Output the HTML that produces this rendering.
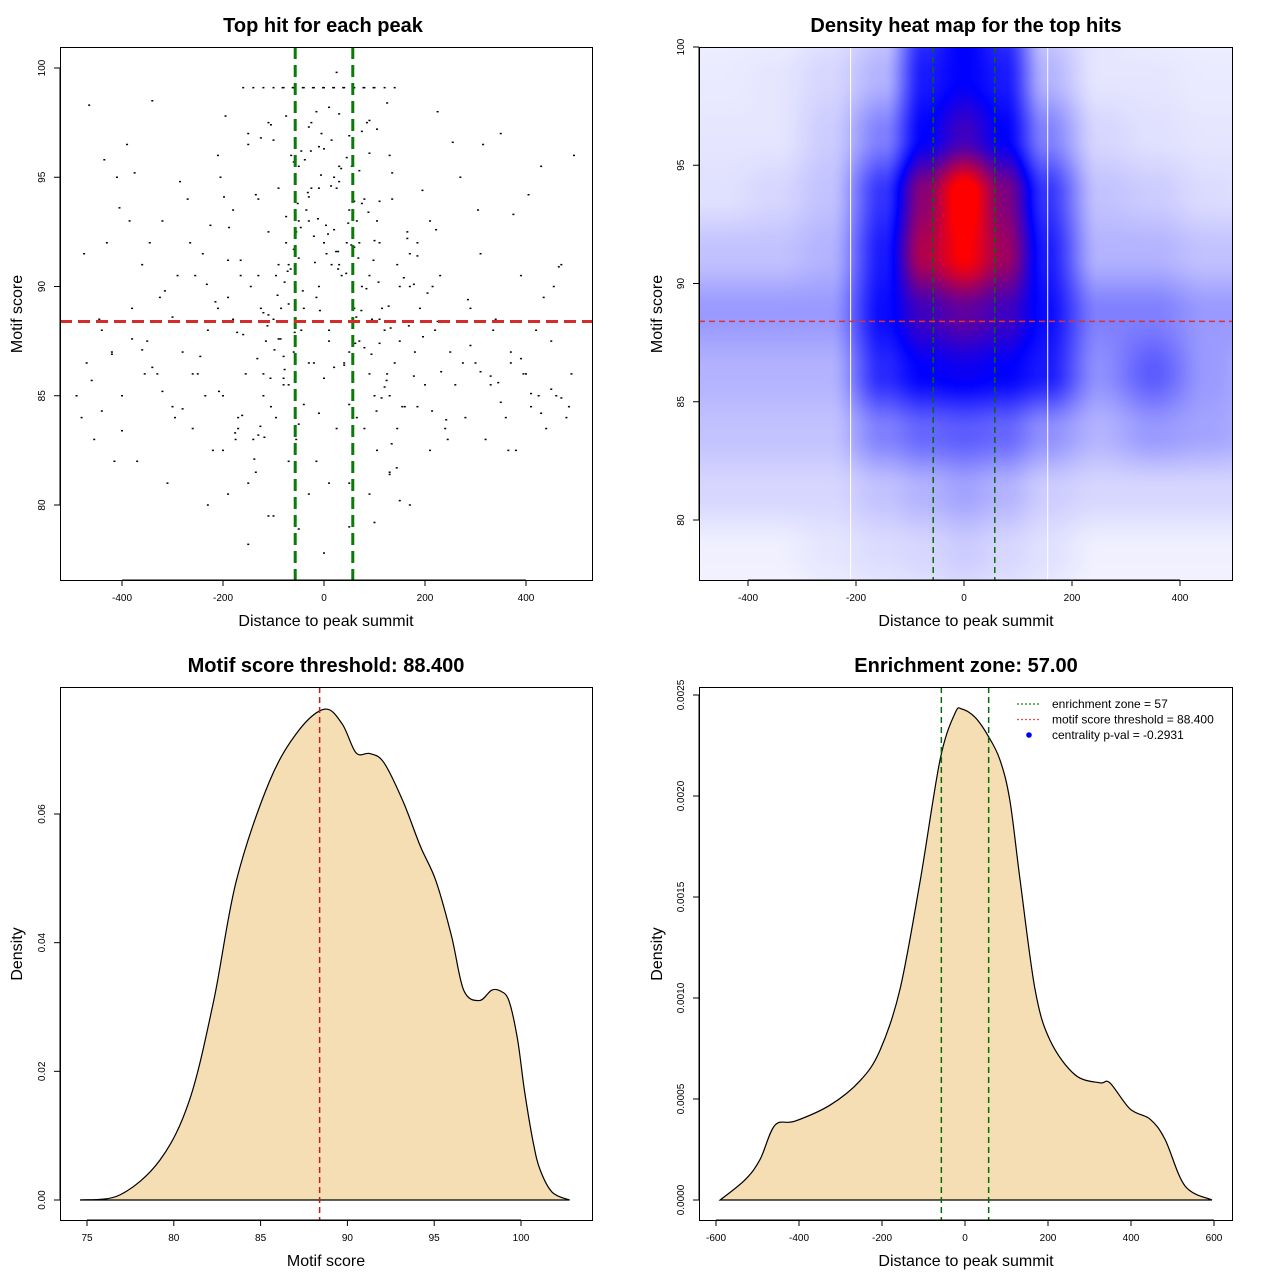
<!DOCTYPE html>
<html><head><meta charset="utf-8"><style>
html,body{margin:0;padding:0;background:#fff}
svg{position:absolute;left:0;top:0}
canvas{position:absolute}
text{font-family:"Liberation Sans",sans-serif}
</style></head><body>
<canvas id="hm" width="533" height="533" style="left:699px;top:47px"></canvas>
<svg id="s" width="1280" height="1280"></svg>
<script>
// ---------- data ----------
const scatterX=[-480,-470,-455,-440,-430,-420,-410,-400,-390,-380,-370,-360,-350,-340,-330,-320,-310,-300,-290,-280,-270,-260,-250,-240,-230,-220,-210,-200,-190,-180,-170,-160,-150,-140,-130,-120,-110,-100,-90,-80,-70,-60,-50,-40,-30,-20,-10,0,10,20,30,40,50,60,70,80,90,100,110,120,130,140,150,160,170,180,190,200,210,220,230,240,250,260,270,280,290,300,310,320,330,340,350,360,370,380,390,400,410,420,430,440,450,460,470,480,490,
-475,-445,-415,-385,-355,-325,-295,-265,-235,-205,-175,-145,-115,-85,-55,-25,5,35,65,95,125,155,185,215,245,275,305,335,365,395,425,455,485,
-160,-140,-120,-100,-80,-60,-40,-20,0,20,40,60,80,100,120,140,
-150,-130,-110,-95,-75,-65,-45,-35,-15,-5,15,25,45,55,75,85,105,115,135,145,165,
-180,-155,-125,-105,-90,-70,-50,-30,-10,10,30,50,70,90,110,130,150,170,
-200,-170,-135,-95,-55,-15,25,65,105,145,185,
-230,-190,-150,-110,-70,-30,10,50,90,130,170,210,
-260,-210,-165,-120,-78,-42,-8,28,62,98,132,178,225,
-120,-80,-40,0,40,80,120,-60,-20,20,60,100,
-490,-465,-435,-405,-375,-345,-315,-285,-255,-225,-195,-165,-135,-105,-75,-45,-15,15,45,75,105,135,165,195,225,255,285,315,345,375,405,435,465,495,
-100,-60,-30,0,30,60,90,-80,-50,-10,20,50,80,110,
-150,-100,-50,0,50,100,150,-125,-75,-25,25,75,125,
-12,8,-32,28,-52,48,-72,68,-92,88,-112,108,-132,128,-6,14,-26,34,-46,54,-66,74,-86,94,-106,114,-126,134,
-18,4,24,-38,44,-58,64,-78,84,-98,104,-118,124,-138,144,-2,18,-22,38,-42,58,-62,78,-82,98,
-190,-215,-245,-172,-162,-188,-232,-208,-176,-198,185,205,232,168,178,214,196,222,242,158,
-340,-360,-320,-300,-280,-380,-420,-460,-440,-400,330,350,310,290,370,410,430,450,470,390,
-30,-10,10,30,50,70,90,110,-50,-70,-90,-110,-130,130];
const scatterY=[84,86.5,83,88,92,87,95,85,96.5,89,82,91,87.5,98.5,86,93,81,84.5,90.5,87,94,83.5,86,91.5,88,82.5,96,85,89.5,93.5,84,87.8,97,83,90.5,86,92.5,88.5,94.5,85.5,91,87,95.5,89,93,86.5,90,92,88,95,91,86.5,93.5,89,87.5,94,90.5,85,92,88,96,86.5,90,84.5,91.5,87,89,85.5,93,88,90.5,83.5,87,85.5,95,84,89,86.5,91.5,83,85.5,88.5,97,84,87,82.5,90.5,86,84.5,88,95.5,83.5,87.5,85,91,84,86,
91.5,88.5,82,93,86,89.5,84,92,85,95,83,90,87.5,89,92.5,94.5,91.5,90.5,93,88.5,86,84.5,92,90,83,86.5,93.5,88,82.5,86,85,90,84.5,
99.1,99.1,99.1,99.1,99.1,99.1,99.1,99.1,99.1,99.1,99.1,99.1,99.1,99.1,99.1,99.1,
96.5,94,97.5,90.5,92,96,88,93.5,89.5,97,91,94.5,92,95.5,90,97.5,93,89,94,91,92.5,
88.5,86,89,84.5,91,85.5,93,86.5,94.5,87.5,95.5,87,92,86,88.5,85,87.5,90,
82.5,83.5,81.5,84,83,82,83.5,84,82.5,83.5,84.5,
80,80.5,81,79.5,82,80.5,81,79,80.5,81.5,80,82.5,
86,89,90.5,88.8,90.2,89.8,88.9,90.8,87.4,91.2,88.1,90.1,88.4,
85,86.8,84.6,85.8,86.4,87.2,85.4,91.7,92.3,92.6,91.8,92.1,
85,98.3,95.8,93.6,95.2,92,89.8,94.8,90.5,92.8,97.8,91.2,94.2,97.4,93.2,96.2,98,96.7,95.9,93.8,97.2,95.2,92.2,94.4,98,96.6,89.4,96.5,85.6,93.3,94.2,89.5,90.9,96,
96.7,95.7,94.1,96.3,97.9,93.9,96.1,85.8,83.7,84.2,86.3,84.6,83.5,87.4,
78.2,79.5,78.9,77.8,81,79.2,80.2,96.8,97.8,97.5,99.8,97.1,98.4,
93.1,92.4,94.3,91.6,93.8,92.9,90.7,91.3,89.6,93.4,88.2,90.2,86.7,89.1,95.1,94.6,96.2,95.4,92.7,91.9,90.8,88.9,87.6,86.9,85.8,84.9,83.6,82.8,
91.1,92.8,91.6,95.8,90.6,87.9,88.6,86.2,89.9,87.1,84.3,83.1,85.7,82.1,81.7,99.1,99.1,99.1,99.1,99.1,99.1,99.1,99.1,99.1,99.1,
91.2,89.3,86.8,87.9,84.1,92.7,90.1,85.2,83.3,94.1,91.4,89.7,86.1,88.2,85.9,84.3,87.7,92.6,83.9,90.4,
86.3,87.1,85.2,88.6,84.4,87.6,86.9,85.7,84.3,83.4,85.9,84.7,86.1,87.3,86.5,85.1,84.2,85.3,84.9,86.7,
97.3,96.4,98.2,94.8,96.9,95.3,97.6,93.9,91.3,89.2,87.6,88.7,83.2,81.4];
const mCats=[74.6,76.9,79.2,80.9,82.3,83.6,85.5,87.2,88.7,89.7,90.5,91.3,92.1,93.2,94.2,95.1,96.0,96.7,97.6,98.3,98.8,99.3,99.8,100.2,100.7,101.1,101.8,102.8];
const mDens=[0,0.0008,0.0062,0.0155,0.031,0.0496,0.065,0.073,0.0763,0.074,0.0695,0.0694,0.068,0.062,0.055,0.0496,0.041,0.0326,0.031,0.0326,0.0325,0.031,0.025,0.017,0.009,0.0047,0.0012,0];
const dCats=[-590,-530,-494,-458,-410,-325,-253,-205,-157,-108,-60,-24,-7,24,55,84,108,133,169,205,265,325,349,398,446,482,530,595];
const dDens=[0,0.0001,0.0002,0.00037,0.00039,0.00047,0.00059,0.00074,0.00104,0.00158,0.00218,0.00241,0.00243,0.00239,0.0023,0.00218,0.00198,0.00158,0.00104,0.00079,0.00062,0.00058,0.00058,0.00045,0.0004,0.0003,0.00007,0];
const hmX=[-550,-450,-350,-250,-150,-75,0,75,150,250,350,450,550];
const hmY=[101,98.75,96.25,93.75,91.25,88.75,86.25,83.75,81.25,78.75,76.5];
const hmV=[
[.03,.03,.03,.05,.1,.4,.5,.4,.1,.05,.03,.03,.03],
[.04,.04,.05,.08,.15,.45,.5,.45,.15,.05,.05,.04,.04],
[.05,.05,.05,.1,.25,.5,.6,.5,.25,.08,.06,.05,.05],
[.06,.06,.08,.12,.4,.72,.95,.7,.4,.12,.1,.07,.06],
[.12,.12,.12,.15,.45,.78,.9,.75,.45,.15,.15,.12,.12],
[.2,.2,.2,.2,.48,.6,.65,.6,.48,.25,.25,.2,.2],
[.15,.15,.15,.15,.42,.5,.52,.5,.45,.22,.32,.2,.15],
[.12,.12,.12,.12,.25,.3,.32,.3,.22,.15,.2,.18,.15],
[.08,.08,.08,.08,.12,.15,.18,.15,.1,.08,.08,.08,.08],
[.03,.03,.03,.05,.07,.08,.1,.08,.06,.03,.03,.03,.03],
[.02,.02,.02,.03,.04,.05,.06,.05,.04,.02,.02,.02,.02]];
const xTicks1=[-400,-200,0,200,400], yTicks1=[80,85,90,95,100];
const mTicksX=[75,80,85,90,95,100], mTicksY=[0,0.02,0.04,0.06];
const dTicksX=[-600,-400,-200,0,200,400,600], dTicksY=[0,0.0005,0.001,0.0015,0.002,0.0025];
const zone=57, thr=88.4;

// ---------- helpers ----------
const S=document.getElementById('s'), NS='http://www.w3.org/2000/svg';
function el(tag,at,txt){const e=document.createElementNS(NS,tag);for(const k in at)e.setAttribute(k,at[k]);if(txt!=null)e.textContent=txt;S.appendChild(e);return e;}
function lin(d0,d1,p0,p1){return v=>p0+(v-d0)*(p1-p0)/(d1-d0);}
function frame(x0,y0,x1,y1,name){const r=el('rect',{x:x0+.5,y:y0+.5,width:x1-x0,height:y1-y0,fill:'none',stroke:'#000','stroke-width':1});

}
function xAxis(ticks,sx,y,fmt,name){ticks.forEach(t=>{const x=sx(t);el('line',{x1:x,y1:y,x2:x,y2:y+6,stroke:'#000'});const tx=el('text',{x:x,y:y+21,'font-size':10,'text-anchor':'middle'},fmt(t));

});
el('line',{x1:sx(ticks[0]),y1:y,x2:sx(ticks[ticks.length-1]),y2:y,stroke:'#000'});}
function yAxis(ticks,sy,x,fmt,name){ticks.forEach(t=>{const y=sy(t);el('line',{x1:x-6,y1:y,x2:x,y2:y,stroke:'#000'});const tx=el('text',{x:x-15,y:y,'font-size':10,'text-anchor':'middle',transform:`rotate(-90 ${x-15} ${y})`},fmt(t));

});
el('line',{x1:x,y1:sy(ticks[0]),x2:x,y2:sy(ticks[ticks.length-1]),stroke:'#000'});}
function title(x,y,t,name){const e=el('text',{x:x,y:y,'font-size':20,'font-weight':'bold','text-anchor':'middle'},t);

}
function lab(x,y,t,rot,name){const e=el('text',{x:x,y:y,'font-size':16,'text-anchor':'middle',transform:rot?`rotate(-90 ${x} ${y})`:''},t);

}
function smooth(xs,ys){let p=xs.map((x,i)=>[x,ys[i]]);let s=`M${p[0][0]},${p[0][1]}`;for(let i=0;i<p.length-1;i++){const p0=p[Math.max(0,i-1)],p1=p[i],p2=p[i+1],p3=p[Math.min(p.length-1,i+2)];
s+=` C${p1[0]+(p2[0]-p0[0])/6},${p1[1]+(p2[1]-p0[1])/6} ${p2[0]-(p3[0]-p1[0])/6},${p2[1]-(p3[1]-p1[1])/6} ${p2[0]},${p2[1]}`;}return s;}

// ---------- panel 1 ----------
{const sx=lin(0,400,324,526), sy=lin(80,100,505,68);
scatterX.forEach((v,i)=>{const r=el('rect',{x:sx(v)-1,y:sy(scatterY[i])-.75,width:2,height:1.5,fill:'#000'});

});
const g1=el('line',{x1:sx(-zone),y1:47,x2:sx(-zone),y2:580,stroke:'#0a7a0a','stroke-width':3,'stroke-dasharray':'12,6'});

const g2=el('line',{x1:sx(zone),y1:47,x2:sx(zone),y2:580,stroke:'#0a7a0a','stroke-width':3,'stroke-dasharray':'12,6'});

const r1=el('line',{x1:60,y1:sy(thr),x2:592,y2:sy(thr),stroke:'#d52b2b','stroke-width':3,'stroke-dasharray':'12,6'});

frame(60,47,592,580,'scatter-plot-frame');
xAxis(xTicks1,sx,580,t=>t,'x-axis-1');yAxis(yTicks1,sy,60,t=>t,'y-axis-1');
title(323,32,'Top hit for each peak','title-scatter');lab(326,626,'Distance to peak summit',0,'x-axis-title-1');lab(22,314,'Motif score',1,'y-axis-title-1');}

// ---------- panel 2 ----------
{const sx=lin(0,200,964,1072), sy=lin(80,100,520,47);
const cv=document.getElementById('hm'),cx=cv.getContext('2d'),im=cx.createImageData(533,533);
function val(xd,yd){let i=0;while(i<hmX.length-2&&xd>hmX[i+1])i++;let j=0;while(j<hmY.length-2&&yd<hmY[j+1])j++;
let tx=Math.min(1,Math.max(0,(xd-hmX[i])/(hmX[i+1]-hmX[i]))),ty=Math.min(1,Math.max(0,(yd-hmY[j])/(hmY[j+1]-hmY[j])));
tx=tx*tx*(3-2*tx);ty=ty*ty*(3-2*ty);
const a=hmV[j][i]*(1-tx)+hmV[j][i+1]*tx,b=hmV[j+1][i]*(1-tx)+hmV[j+1][i+1]*tx;return a*(1-ty)+b*ty;}
for(let py=0;py<533;py++)for(let px=0;px<533;px++){const xd=(px+699-964)*200/108,yd=80+(520-(py+47))*20/473;
let v=val(xd,yd),r,g,b;if(v<.5){const t=v/.5;r=255*(1-t);g=255*(1-t);b=255;}else{const t=Math.min(1,(v-.5)/.4);r=255*t;g=0;b=255*(1-t);}
const k=(py*533+px)*4;im.data[k]=r;im.data[k+1]=g;im.data[k+2]=b;im.data[k+3]=255;}
cx.putImageData(im,0,0);
[-210,155].forEach(v=>{const l=el('line',{x1:sx(v),y1:47,x2:sx(v),y2:580,stroke:'#fff','stroke-width':1});
});
[-zone,zone].forEach(v=>{const l=el('line',{x1:sx(v),y1:47,x2:sx(v),y2:580,stroke:'#0a6a0a','stroke-width':1.5,'stroke-dasharray':'6,4'});
});
const r=el('line',{x1:699,y1:sy(thr),x2:1232,y2:sy(thr),stroke:'#e03030','stroke-width':1.5,'stroke-dasharray':'6,4'});

frame(699,47,1232,580,'heatmap-frame');
xAxis([-400,-200,0,200,400],sx,580,t=>t,'x-axis-2');yAxis(yTicks1,sy,699,t=>t,'y-axis-2');
title(966,32,'Density heat map for the top hits','title-heatmap');lab(966,626,'Distance to peak summit',0,'x-axis-title-2');lab(662,314,'Motif score',1,'y-axis-title-2');}

// ---------- panel 3 ----------
{const sx=lin(75,100,87,521), sy=lin(0,0.06,1200,814);
const a=el('path',{d:smooth(mCats.map(sx),mDens.map(sy))+' Z',fill:'#f5deb3',stroke:'#000','stroke-width':1.2});

const r=el('line',{x1:sx(thr),y1:687,x2:sx(thr),y2:1220,stroke:'#c02020','stroke-width':1.5,'stroke-dasharray':'6,4'});

frame(60,687,592,1220,'score-density-frame');
xAxis(mTicksX,sx,1220,t=>t,'x-axis-3');yAxis(mTicksY,sy,60,t=>t.toFixed(2),'y-axis-3');
title(326,672,'Motif score threshold: 88.400','title-threshold');lab(326,1266,'Motif score',0,'x-axis-title-3');lab(22,954,'Density',1,'y-axis-title-3');}

// ---------- panel 4 ----------
{const sx=lin(0,200,965,1048), sy=lin(0,0.0025,1200,695);
const a=el('path',{d:smooth(dCats.map(sx),dDens.map(sy))+' Z',fill:'#f5deb3',stroke:'#000','stroke-width':1.2});

[-zone,zone].forEach(v=>{const l=el('line',{x1:sx(v),y1:687,x2:sx(v),y2:1220,stroke:'#0a6a0a','stroke-width':1.5,'stroke-dasharray':'6,4'});
});
frame(699,687,1232,1220,'distance-density-frame');
xAxis(dTicksX,sx,1220,t=>t,'x-axis-4');yAxis(dTicksY,sy,699,t=>t.toFixed(4),'y-axis-4');
title(966,672,'Enrichment zone: 57.00','title-enrichment');lab(966,1266,'Distance to peak summit',0,'x-axis-title-4');lab(662,954,'Density',1,'y-axis-title-4');
const leg=[['enrichment zone = 57','#1a7a1a','line'],['motif score threshold = 88.400','#e05050','line'],['centrality p-val = -0.2931','#0000ff','dot']];
leg.forEach((L,i)=>{const y=704+i*15.5;
if(L[2]=='line'){const l=el('line',{x1:1017,y1:y,x2:1041,y2:y,stroke:L[1],'stroke-width':1.2,'stroke-dasharray':'2,2'});}
else{const c=el('circle',{cx:1029,cy:y,r:2.8,fill:L[1]});}
const t=el('text',{x:1052,y:y+4,'font-size':12},L[0]);});}
</script>
</body></html>
